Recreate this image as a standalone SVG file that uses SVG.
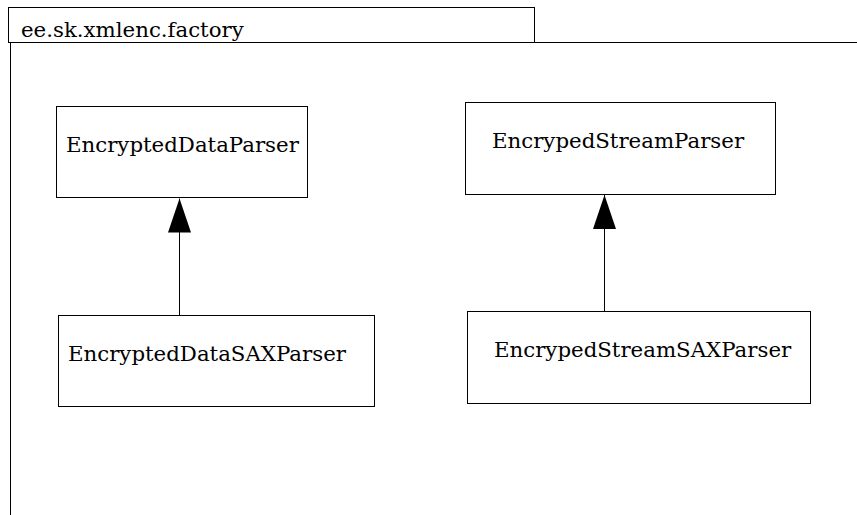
<svg xmlns="http://www.w3.org/2000/svg" width="857" height="515" viewBox="0 0 857 515">
<defs>
<style>
.box{fill:#fff;stroke:#000;stroke-width:1}
.lbl{font-family:"DejaVu Serif",serif;font-size:21.3px;fill:#000}
.pkg{font-family:"DejaVu Serif",serif;font-size:21.3px;fill:#000}
.edge{stroke:#000;stroke-width:1;fill:none}
</style>
<marker id="tri" viewBox="0 0 34 23" refX="34" refY="11.5" markerWidth="34" markerHeight="23" markerUnits="userSpaceOnUse" orient="auto">
<path d="M0,0 L34,11.5 L0,23 Z" fill="#000"/>
</marker>
</defs>
<rect width="857" height="515" fill="#fff"/>
<g id="package">
<rect x="8.5" y="7.5" width="526" height="35" fill="#fff" stroke="#000"/>
<polyline points="10.5,515 10.5,42.5 857,42.5" fill="none" stroke="#000"/>
<text class="pkg" x="21" y="37">ee.sk.xmlenc.factory</text>
</g>
<g id="EncryptedDataParser">
<rect class="box" x="56.5" y="106.5" width="251" height="91"/>
<text class="lbl" x="66" y="152">EncryptedDataParser</text>
</g>
<g id="EncrypedStreamParser">
<rect class="box" x="465.5" y="102.5" width="310" height="92"/>
<text class="lbl" x="492" y="148">EncrypedStreamParser</text>
</g>
<g id="EncryptedDataSAXParser">
<rect class="box" x="58.5" y="315.5" width="316" height="91"/>
<text class="lbl" x="68" y="361">EncryptedDataSAXParser</text>
</g>
<g id="EncrypedStreamSAXParser">
<rect class="box" x="467.5" y="311.5" width="343" height="92"/>
<text class="lbl" x="494" y="357">EncrypedStreamSAXParser</text>
</g>
<g id="connectors">
<line class="edge" x1="179.5" y1="315" x2="179.5" y2="198.5" marker-end="url(#tri)"/>
<line class="edge" x1="604.5" y1="311" x2="604.5" y2="195" marker-end="url(#tri)"/>
</g>
</svg>
